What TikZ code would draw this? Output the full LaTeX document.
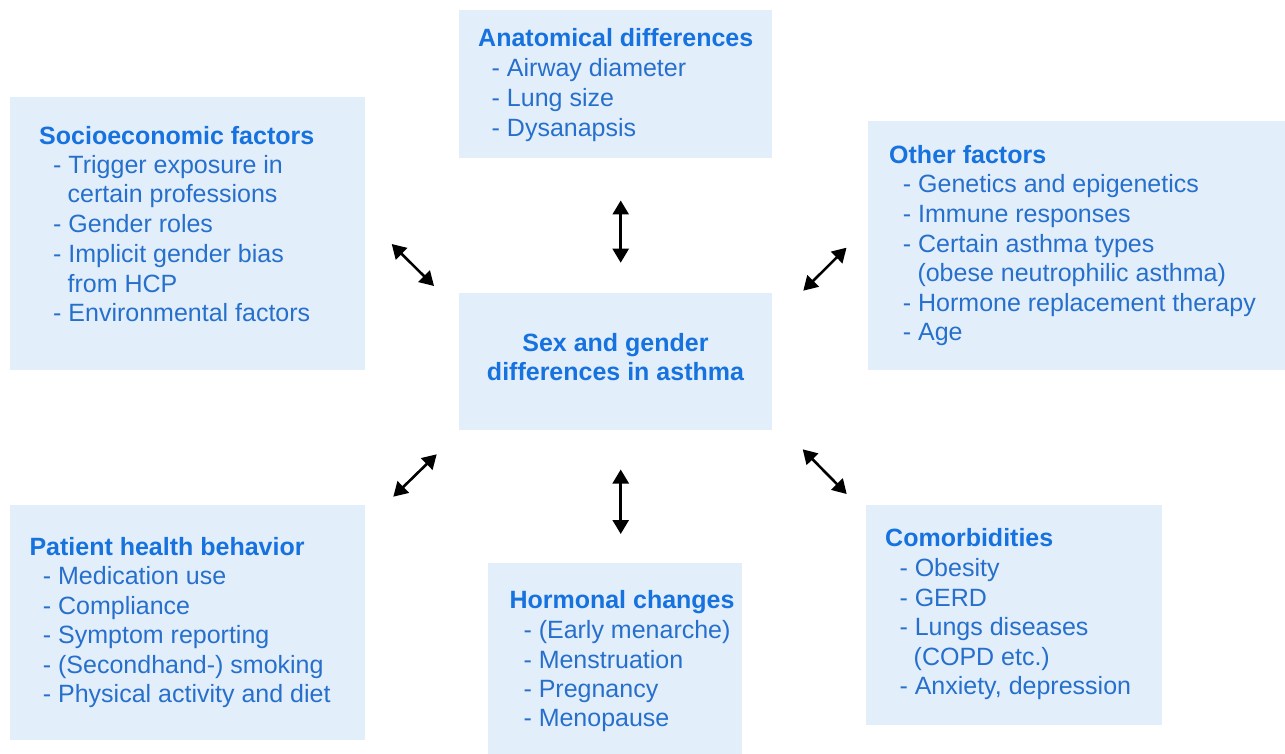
\documentclass[tikz,border=0pt]{standalone}
\usepackage{fontspec}
\setmainfont{Liberation Sans}
\usetikzlibrary{arrows.meta}
\definecolor{boxfill}{RGB}{227,238,251}
\definecolor{titleblue}{RGB}{22,114,222}
\definecolor{itemblue}{RGB}{38,112,204}
\tikzset{
  panel/.style={fill=boxfill, draw=none, inner sep=0pt, outer sep=0pt, anchor=north west},
  ttl/.style={anchor=base west, inner sep=0pt, text=titleblue, font=\fontsize{25}{30}\selectfont\bfseries},
  itm/.style={anchor=base west, inner sep=0pt, text=itemblue, font=\fontsize{25}{30}\selectfont},
  ctr/.style={anchor=base, inner sep=0pt, text=titleblue, font=\fontsize{25}{30}\selectfont\bfseries},
  biarrow/.style={{Triangle[length=14pt,width=16pt]}-{Triangle[length=14pt,width=16pt]}, line width=2.6pt, draw=black}
}
\begin{document}
\begin{tikzpicture}[x=1pt,y=-1pt]
\useasboundingbox[fill=white] (0,0) rectangle (1285,754);

% panels
\node[panel, minimum width=313pt, minimum height=148pt] (anatBox) at (459,10) {};
\node[panel, minimum width=355pt, minimum height=273pt] (socioBox) at (10,97) {};
\node[panel, minimum width=417pt, minimum height=249pt] (otherBox) at (868,121) {};
\node[panel, minimum width=313pt, minimum height=137pt] (centerBox) at (459,293) {};
\node[panel, minimum width=355pt, minimum height=235pt] (patientBox) at (10,505) {};
\node[panel, minimum width=254pt, minimum height=191pt] (hormBox) at (488,563) {};
\node[panel, minimum width=296pt, minimum height=220pt] (comorbBox) at (866,505) {};

% anatomical
\node[ttl] (anatT) at (478,47) {Anatomical differences};
\node[itm] (anat1) at (491.5,76.7) {- Airway diameter};
\node[itm] (anat2) at (491.5,106.5) {- Lung size};
\node[itm] (anat3) at (491.5,136.3) {- Dysanapsis};

% socioeconomic
\node[ttl] (socioT) at (39,144.3) {Socioeconomic factors};
\node[itm] (socio1) at (53,173.5) {- Trigger exposure in};
\node[itm] (socio1b) at (67.5,203) {certain professions};
\node[itm] (socio2) at (53,232.7) {- Gender roles};
\node[itm] (socio3) at (53,262.5) {- Implicit gender bias};
\node[itm] (socio3b) at (67.5,292.2) {from HCP};
\node[itm] (socio4) at (53,321.7) {- Environmental factors};

% other factors
\node[ttl] (otherT) at (889,163.3) {Other factors};
\node[itm] (other1) at (902.7,192.7) {- Genetics and epigenetics};
\node[itm] (other2) at (902.7,222.4) {- Immune responses};
\node[itm] (other3) at (902.7,252.1) {- Certain asthma types};
\node[itm] (other3b) at (917.3,281.7) {(obese neutrophilic asthma)};
\node[itm] (other4) at (902.7,311.2) {- Hormone replacement therapy};
\node[itm] (other5) at (902.7,340.5) {- Age};

% center
\node[ctr] (center1) at (615.5,351.7) {Sex and gender};
\node[ctr] (center2) at (615.5,380.5) {differences in asthma};

% patient
\node[ttl] (patT) at (29.3,555) {Patient health behavior};
\node[itm] (pat1) at (42.7,584.5) {- Medication use};
\node[itm] (pat2) at (42.7,614) {- Compliance};
\node[itm] (pat3) at (42.7,643.5) {- Symptom reporting};
\node[itm] (pat4) at (42.7,673) {- (Secondhand-) smoking};
\node[itm] (pat5) at (42.7,702.3) {- Physical activity and diet};

% hormonal
\node[ttl] (hormT) at (509.3,608.3) {Hormonal changes};
\node[itm] (horm1) at (523.3,638.5) {- (Early menarche)};
\node[itm] (horm2) at (523.3,668) {- Menstruation};
\node[itm] (horm3) at (523.3,697.2) {- Pregnancy};
\node[itm] (horm4) at (523.3,726.2) {- Menopause};

% comorbidities
\node[ttl] (comT) at (885,546.7) {Comorbidities};
\node[itm] (com1) at (899.3,576.5) {- Obesity};
\node[itm] (com2) at (899.3,606) {- GERD};
\node[itm] (com3) at (899.3,635.5) {- Lungs diseases};
\node[itm] (com3b) at (913.5,665) {(COPD etc.)};
\node[itm] (com4) at (899.3,694.5) {- Anxiety, depression};

% arrow end points
\coordinate (aTopA) at (620.7,200.5);
\coordinate (aTopB) at (620.7,262.7);
\coordinate (aULA) at (391.7,244);
\coordinate (aULB) at (434,286);
\coordinate (aURA) at (846.5,247.7);
\coordinate (aURB) at (803.3,290.7);
\coordinate (aLLA) at (436.7,454.3);
\coordinate (aLLB) at (393.3,496.7);
\coordinate (aLRA) at (802.7,449.3);
\coordinate (aLRB) at (846.7,494);
\coordinate (aBotA) at (620.7,469.5);
\coordinate (aBotB) at (620.7,534);

\draw[biarrow] (aTopA) -- (aTopB);
\draw[biarrow] (aULA) -- (aULB);
\draw[biarrow] (aURA) -- (aURB);
\draw[biarrow] (aLLA) -- (aLLB);
\draw[biarrow] (aLRA) -- (aLRB);
\draw[biarrow] (aBotA) -- (aBotB);
\end{tikzpicture}
\end{document}
